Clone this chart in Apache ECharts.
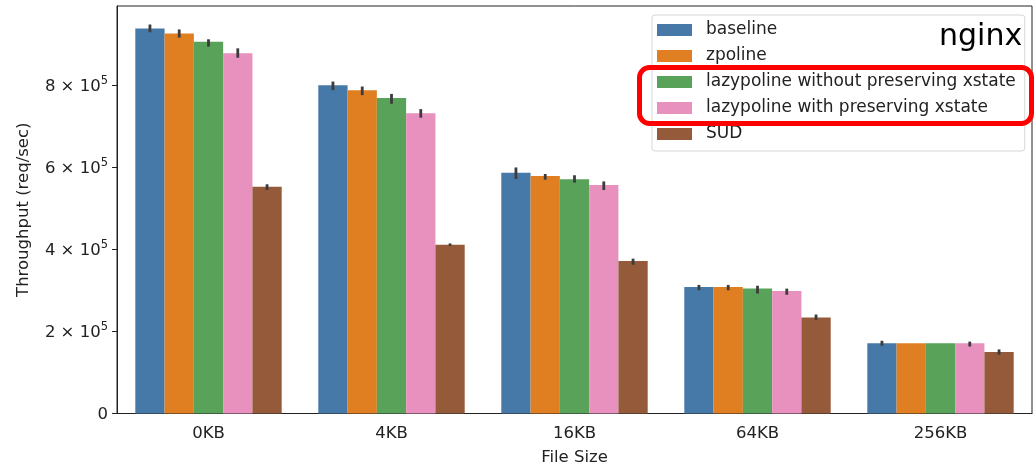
<!DOCTYPE html>
<html lang="en">
<head>
    <meta charset="UTF-8">
    <title>nginx throughput</title>
    <script src="https://cdn.jsdelivr.net/npm/echarts@6/dist/echarts.min.js"></script>
</head>
<body style="margin:0">
<div id="main" style="width:1034px;height:467px;"></div>
<script>
    var categories = ['0KB', '4KB', '16KB', '64KB', '256KB'];
    var seriesNames = ['baseline', 'zpoline', 'lazypoline without preserving xstate', 'lazypoline with preserving xstate', 'SUD'];
    var colors = ['#4779a8', '#e07f22', '#59a25a', '#e891bf', '#955a3a'];

    var baseline = [937000, 799000, 586000, 308000, 171000];
    var zpoline = [925000, 787000, 578000, 308000, 171000];
    var lazyNoXstate = [905000, 768000, 570000, 304000, 171000];
    var lazyXstate = [877000, 731000, 556000, 298000, 171000];
    var sud = [552000, 411000, 371000, 234000, 150000];

    // error bar ranges (low / high)
    var baselineLo = [928000, 787000, 571000, 300000, 165000];
    var baselineHi = [947000, 808000, 599000, 313000, 177000];
    var zpolineLo = [915000, 775000, 569000, 300000, 171000];
    var zpolineHi = [935000, 796000, 583000, 313000, 171000];
    var lazyNoXstateLo = [893000, 754000, 562000, 292000, 171000];
    var lazyNoXstateHi = [911000, 778000, 580000, 311000, 171000];
    var lazyXstateLo = [866000, 720000, 544000, 289000, 163000];
    var lazyXstateHi = [889000, 741000, 565000, 304000, 175000];
    var sudLo = [544000, 408000, 362000, 228000, 143000];
    var sudHi = [558000, 414000, 377000, 241000, 156000];

    var yTicks = [0, 200000, 400000, 600000, 800000];

    var values = [baseline, zpoline, lazyNoXstate, lazyXstate, sud];
    var lows = [baselineLo, zpolineLo, lazyNoXstateLo, lazyXstateLo, sudLo];
    var highs = [baselineHi, zpolineHi, lazyNoXstateHi, lazyXstateHi, sudHi];

    var font = 'DejaVu Sans';
    var chart = echarts.init(document.getElementById('main'));

    var series = [];
    for (var k = 0; k < values.length; k++) {
        series.push({
            name: seriesNames[k],
            type: 'bar',
            data: values[k],
            barGap: 0,
            barCategoryGap: '20%',
            itemStyle: {color: colors[k]},
            animation: false
        });
    }

    var errData = [];
    for (var k = 0; k < lows.length; k++) {
        for (var i = 0; i < categories.length; i++) {
            if (highs[k][i] > lows[k][i]) errData.push([i, k, lows[k][i], highs[k][i]]);
        }
    }
    series.push({
        type: 'custom',
        data: errData,
        z: 10,
        animation: false,
        renderItem: function (params, api) {
            var cat = api.value(0), k = api.value(1);
            var lo = api.coord([cat, api.value(2)]);
            var hi = api.coord([cat, api.value(3)]);
            var bw = api.size([1, 0])[0];
            var x = lo[0] + (k - 2) * bw * 0.16;
            return {
                type: 'line',
                shape: {x1: x, y1: lo[1], x2: x, y2: hi[1]},
                style: {stroke: '#3c3c3c', lineWidth: 2.8}
            };
        }
    });

    var option = {
        animation: false,
        textStyle: {fontFamily: font},
        grid: {
            left: 117, right: 2, top: 6, bottom: 53.5,
            outerBoundsMode: 'none',
            containLabel: false,
            show: true, borderColor: '#222', borderWidth: 1
        },
        legend: {
            orient: 'vertical',
            left: 652, top: 15,
            data: seriesNames,
            icon: 'rect',
            itemWidth: 35, itemHeight: 12,
            itemGap: 8,
            padding: [6, 9, 8, 5],
            backgroundColor: 'rgba(255,255,255,0.8)',
            borderColor: '#d6d6d6', borderWidth: 1, borderRadius: 3,
            textStyle: {fontFamily: font, fontSize: 17, color: '#222', lineHeight: 18, padding: [0, 0, 0, 9]}
        },
        xAxis: {
            type: 'category',
            data: categories,
            name: 'File Size',
            nameLocation: 'middle',
            nameGap: 36,
            nameTextStyle: {fontFamily: font, fontSize: 16.5, color: '#222'},
            axisLine: {lineStyle: {color: '#222', width: 1}},
            axisTick: {alignWithLabel: true, length: 5, lineStyle: {color: '#222'}},
            axisLabel: {fontFamily: font, fontSize: 16.5, color: '#222', margin: 12}
        },
        yAxis: {
            type: 'value',
            min: 0, max: 992000, interval: 200000,
            name: 'Throughput (req/sec)',
            nameLocation: 'middle',
            nameGap: 85,
            nameTextStyle: {fontFamily: font, fontSize: 16.5, color: '#222'},
            splitLine: {show: false},
            axisLine: {show: true, lineStyle: {color: '#222', width: 1}},
            axisTick: {show: true, length: 5, lineStyle: {color: '#222'}},
            axisLabel: {
                margin: 9,
                showMaxLabel: false,
                color: '#222',
                formatter: function (v) {
                    if (yTicks.indexOf(v) < 0) return '';
                    if (v === 0) return '{b|0}';
                    return '{b|' + (v / 100000) + ' × 10}{s|5}';
                },
                rich: {
                    b: {fontFamily: font, fontSize: 16.5, color: '#222', lineHeight: 20, verticalAlign: 'bottom'},
                    s: {fontFamily: font, fontSize: 11.5, color: '#222', lineHeight: 20, verticalAlign: 'top', padding: [0, 0, 7, 0]}
                }
            }
        },
        graphic: [
            {
                type: 'text', left: 939, top: 22, z: 100,
                style: {text: 'nginx', fontFamily: font, fontSize: 30, fill: '#000'}
            },
            {
                type: 'rect', z: 100,
                shape: {x: 639.5, y: 67.5, width: 392, height: 56, r: 10},
                style: {fill: 'none', stroke: '#ff0000', lineWidth: 5}
            }
        ],
        series: series
    };
    chart.setOption(option);
</script>
</body>
</html>
